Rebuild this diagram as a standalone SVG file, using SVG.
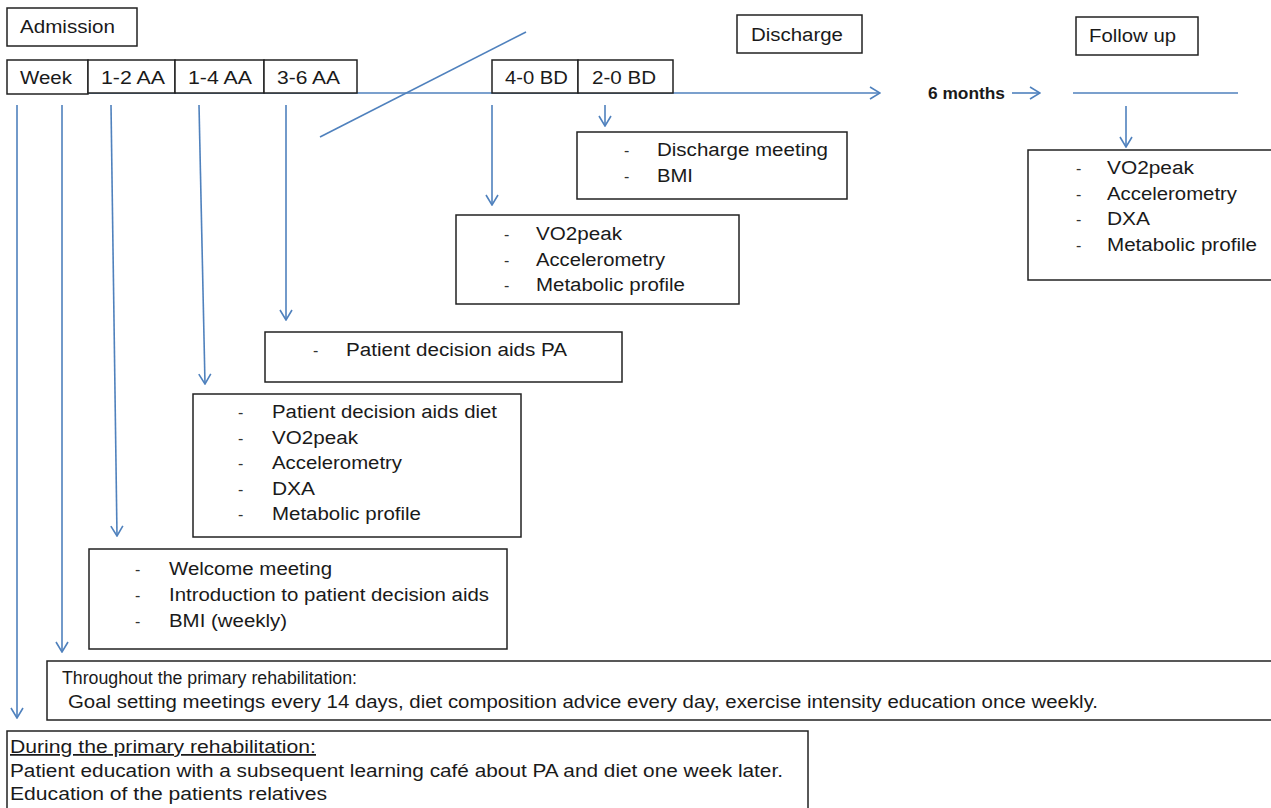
<svg xmlns="http://www.w3.org/2000/svg" width="1271" height="808" viewBox="0 0 1271 808">
<style>
.box{fill:#fff;stroke:#222;stroke-width:1.5}
.t{font-family:"Liberation Sans",Arial,sans-serif;font-size:18px;fill:#1a1a1a}
.s{font-family:"Liberation Sans",Arial,sans-serif;font-size:17.5px;fill:#1a1a1a}
.m{font-family:"Liberation Sans",Arial,sans-serif;font-size:16px;fill:#1a1a1a}
.d{font-family:"Liberation Sans",Arial,sans-serif;font-size:16px;fill:#333}
.ln{stroke:#4f81bd;stroke-width:1.6;fill:none}
</style>
<defs>
<marker id="ah" viewBox="0 0 12 14" refX="11" refY="7" markerWidth="12" markerHeight="14" markerUnits="userSpaceOnUse" orient="auto">
<path d="M1,1 L11,7 L1,13" fill="none" stroke="#4f81bd" stroke-width="1.6"/>
</marker>
</defs>
<rect width="1271" height="808" fill="#fff"/>

<g id="connectors">
<line class="ln" x1="88" y1="93" x2="880" y2="93" marker-end="url(#ah)"/>
<line class="ln" x1="1012" y1="93" x2="1040" y2="93" marker-end="url(#ah)"/>
<line class="ln" x1="1073" y1="93" x2="1238" y2="93"/>
<line class="ln" x1="320" y1="137" x2="526" y2="32"/>
<line class="ln" x1="17" y1="105" x2="17" y2="718" marker-end="url(#ah)"/>
<line class="ln" x1="62" y1="105" x2="62" y2="652" marker-end="url(#ah)"/>
<line class="ln" x1="111" y1="105" x2="117" y2="536" marker-end="url(#ah)"/>
<line class="ln" x1="199" y1="105" x2="205" y2="384" marker-end="url(#ah)"/>
<line class="ln" x1="286" y1="105" x2="286" y2="320" marker-end="url(#ah)"/>
<line class="ln" x1="492" y1="105" x2="492" y2="205" marker-end="url(#ah)"/>
<line class="ln" x1="605" y1="105" x2="605" y2="126" marker-end="url(#ah)"/>
<line class="ln" x1="1126" y1="106" x2="1126" y2="147" marker-end="url(#ah)"/>
</g>

<g id="admission">
<rect class="box" x="7" y="8" width="130" height="38"/>
<text class="t" x="20" y="33" textLength="95" lengthAdjust="spacingAndGlyphs">Admission</text>
</g>

<g id="week">
<rect class="box" x="7" y="60" width="81" height="34"/>
<text class="t" x="20" y="84" textLength="52" lengthAdjust="spacingAndGlyphs">Week</text>
</g>
<g id="w12">
<rect class="box" x="88" y="60" width="87" height="33"/>
<text class="t" x="101" y="84" textLength="64" lengthAdjust="spacingAndGlyphs">1-2 AA</text>
</g>
<g id="w14">
<rect class="box" x="175" y="60" width="89" height="33"/>
<text class="t" x="188" y="84" textLength="64" lengthAdjust="spacingAndGlyphs">1-4 AA</text>
</g>
<g id="w36">
<rect class="box" x="264" y="60" width="93" height="33"/>
<text class="t" x="277" y="84" textLength="63" lengthAdjust="spacingAndGlyphs">3-6 AA</text>
</g>
<g id="bd40">
<rect class="box" x="492" y="60" width="86" height="33"/>
<text class="t" x="505" y="84" textLength="63" lengthAdjust="spacingAndGlyphs">4-0 BD</text>
</g>
<g id="bd20">
<rect class="box" x="578" y="60" width="95" height="33"/>
<text class="t" x="592" y="84" textLength="64" lengthAdjust="spacingAndGlyphs">2-0 BD</text>
</g>

<g id="discharge">
<rect class="box" x="737" y="15" width="125" height="38"/>
<text class="t" x="751" y="41" textLength="92" lengthAdjust="spacingAndGlyphs">Discharge</text>
</g>
<g id="followup">
<rect class="box" x="1076" y="17" width="122" height="38"/>
<text class="t" x="1089" y="42" textLength="87" lengthAdjust="spacingAndGlyphs">Follow up</text>
</g>
<g id="sixmonths">
<text class="m" x="928" y="99" textLength="77" lengthAdjust="spacingAndGlyphs" font-weight="bold">6 months</text>
</g>

<g id="dischargemeeting">
<rect class="box" x="577" y="132" width="270" height="67"/>
<text class="d" x="624" y="156">-</text>
<text class="t" x="657" y="156" textLength="171" lengthAdjust="spacingAndGlyphs">Discharge meeting</text>
<text class="d" x="624" y="182">-</text>
<text class="t" x="657" y="182" textLength="36" lengthAdjust="spacingAndGlyphs">BMI</text>
</g>

<g id="followuplist">
<rect class="box" x="1028" y="150" width="245" height="130"/>
<text class="d" x="1076" y="174">-</text>
<text class="t" x="1107" y="174" textLength="87" lengthAdjust="spacingAndGlyphs">VO2peak</text>
<text class="d" x="1076" y="200">-</text>
<text class="t" x="1107" y="200" textLength="130" lengthAdjust="spacingAndGlyphs">Accelerometry</text>
<text class="d" x="1076" y="225">-</text>
<text class="t" x="1107" y="225" textLength="43" lengthAdjust="spacingAndGlyphs">DXA</text>
<text class="d" x="1076" y="251">-</text>
<text class="t" x="1107" y="251" textLength="150" lengthAdjust="spacingAndGlyphs">Metabolic profile</text>
</g>

<g id="bd40list">
<rect class="box" x="456" y="215" width="283" height="89"/>
<text class="d" x="504" y="240">-</text>
<text class="t" x="536" y="240" textLength="86" lengthAdjust="spacingAndGlyphs">VO2peak</text>
<text class="d" x="504" y="266">-</text>
<text class="t" x="536" y="266" textLength="129" lengthAdjust="spacingAndGlyphs">Accelerometry</text>
<text class="d" x="504" y="291">-</text>
<text class="t" x="536" y="291" textLength="149" lengthAdjust="spacingAndGlyphs">Metabolic profile</text>
</g>

<g id="pa">
<rect class="box" x="265" y="332" width="357" height="50"/>
<text class="d" x="313" y="356">-</text>
<text class="t" x="346" y="356" textLength="221" lengthAdjust="spacingAndGlyphs">Patient decision aids PA</text>
</g>

<g id="diet">
<rect class="box" x="193" y="394" width="328" height="143"/>
<text class="d" x="238" y="418">-</text>
<text class="t" x="272" y="418" textLength="225" lengthAdjust="spacingAndGlyphs">Patient decision aids diet</text>
<text class="d" x="238" y="444">-</text>
<text class="t" x="272" y="444" textLength="86" lengthAdjust="spacingAndGlyphs">VO2peak</text>
<text class="d" x="238" y="469">-</text>
<text class="t" x="272" y="469" textLength="130" lengthAdjust="spacingAndGlyphs">Accelerometry</text>
<text class="d" x="238" y="495">-</text>
<text class="t" x="272" y="495" textLength="43" lengthAdjust="spacingAndGlyphs">DXA</text>
<text class="d" x="238" y="520">-</text>
<text class="t" x="272" y="520" textLength="149" lengthAdjust="spacingAndGlyphs">Metabolic profile</text>
</g>

<g id="welcome">
<rect class="box" x="89" y="549" width="418" height="100"/>
<text class="d" x="135" y="575">-</text>
<text class="t" x="169" y="575" textLength="163" lengthAdjust="spacingAndGlyphs">Welcome meeting</text>
<text class="d" x="135" y="601">-</text>
<text class="t" x="169" y="601" textLength="320" lengthAdjust="spacingAndGlyphs">Introduction to patient decision aids</text>
<text class="d" x="135" y="627">-</text>
<text class="t" x="169" y="627" textLength="118" lengthAdjust="spacingAndGlyphs">BMI (weekly)</text>
</g>

<g id="throughout">
<rect class="box" x="47" y="661" width="1226" height="59"/>
<text class="s" x="62" y="684" textLength="295" lengthAdjust="spacingAndGlyphs">Throughout the primary rehabilitation:</text>
<text class="s" x="68" y="708" textLength="1030" lengthAdjust="spacingAndGlyphs">Goal setting meetings every 14 days, diet composition advice every day, exercise intensity education once weekly.</text>
</g>

<g id="during">
<rect class="box" x="7" y="731" width="801" height="80"/>
<text class="s" x="10" y="753" textLength="306" lengthAdjust="spacingAndGlyphs" text-decoration="underline">During the primary rehabilitation:</text>
<text class="s" x="10" y="777" textLength="773" lengthAdjust="spacingAndGlyphs">Patient education with a subsequent learning café about PA and diet one week later.</text>
<text class="s" x="10" y="800" textLength="317" lengthAdjust="spacingAndGlyphs">Education of the patients relatives</text>
</g>
</svg>
